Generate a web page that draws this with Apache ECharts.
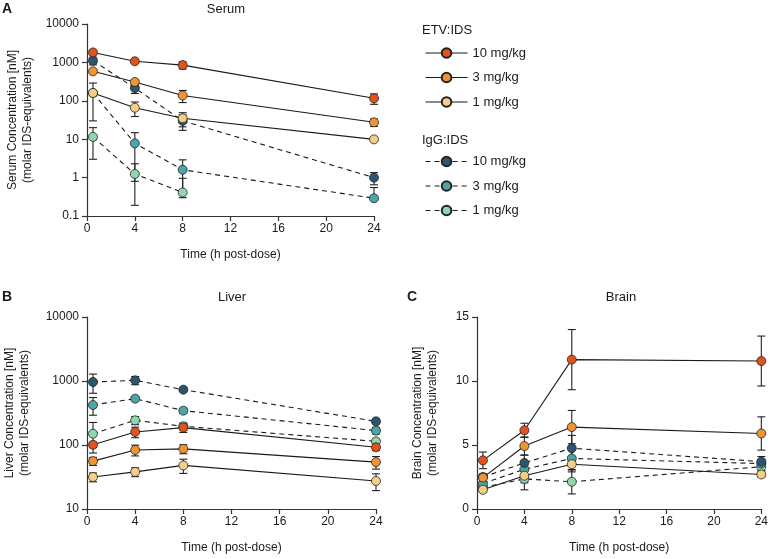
<!DOCTYPE html>
<html>
<head>
<meta charset="utf-8">
<script src="https://cdn.jsdelivr.net/npm/echarts@6/dist/echarts.min.js"></script>
<style>
  html, body { margin: 0; padding: 0; background: #fff; }
  #main { width: 771px; height: 559px; }
</style>
</head>
<body>
<div id="main"></div>
<script>
// sampling times (h post-dose)
var times = [0.5, 4, 8, 24];

// group labels / legend
var groups = ['ETV:IDS', 'IgG:IDS'];
var doses = ['10 mg/kg', '3 mg/kg', '1 mg/kg'];

// Serum (nM) mean and SD
var serumEtv10 = [1820, 1070, 850, 116];
var serumEtv10Sd = [250, 100, 180, 35];
var serumEtv3 = [585, 310, 138, 27.5];
var serumEtv3Sd = [60, 40, 48, 6];
var serumEtv1 = [160, 66, 35, 9.9];
var serumEtv1Sd = [25, 27, 14, 1];
var serumIgg10 = [1110, 215, 30, 1.0];
var serumIgg10Sd = [250, 60, 13, 0.35];
var serumIgg3 = [160, 7.8, 1.6, 0.29];
var serumIgg3Sd = [130, 7, 1.3, 0.26];
var serumIgg1 = [11.5, 1.24, 0.41, null];
var serumIgg1Sd = [8.5, 1.05, 0.55, null];

// Liver (nM)
var liverEtv10 = [101, 160, 187, 92];
var liverEtv10Sd = [10, 30, 30, 10];
var liverEtv3 = [56, 83.5, 87, 54];
var liverEtv3Sd = [8, 16, 14, 12];
var liverEtv1 = [31.6, 38, 48, 27.4];
var liverEtv1Sd = [5, 6, 12, 8];
var liverIgg10 = [964, 1025, 732, 234];
var liverIgg10Sd = [320, 150, 40, 20];
var liverIgg3 = [422, 530, 344, 168];
var liverIgg3Sd = [130, 40, 30, 20];
var liverIgg1 = [150, 243, 196, 114];
var liverIgg1Sd = [75, 35, 25, 10];

// Brain (nM)
var brainEtv10 = [3.8, 6.15, 11.67, 11.56];
var brainEtv10Sd = [0.65, 0.55, 2.35, 1.95];
var brainEtv3 = [2.45, 4.92, 6.4, 5.9];
var brainEtv3Sd = [0.3, 0.7, 1.3, 1.3];
var brainEtv1 = [1.5, 2.6, 3.5, 2.7];
var brainEtv1Sd = [0.2, 1.1, 0.6, 0.2];
var brainIgg10 = [2.5, 3.6, 4.75, 3.7];
var brainIgg10Sd = [0.2, 0.6, 1.0, 0.4];
var brainIgg3 = [2.0, 3.1, 3.95, 3.55];
var brainIgg3Sd = [0.3, 0.6, 0.9, 0.3];
var brainIgg1 = [1.7, 2.35, 2.13, 3.3];
var brainIgg1Sd = [0.3, 0.3, 0.95, 0.3];

var colEtv = ['#e1521d', '#ee9434', '#f5cf88'];
var colIgg = ['#2c5670', '#4fa5a6', '#90d6b0'];

var FONT = 'Liberation Sans, Arial, sans-serif';
var chart = echarts.init(document.getElementById('main'));

function fmt(v) { return String(+(+v).toPrecision(6)); }

var axisLineStyle = { show: true, onZero: false, lineStyle: { color: '#333', width: 1.2 } };
var tickStyle = { show: true, inside: false, length: 5, lineStyle: { color: '#333', width: 1.2 } };

function xAxis(gi) {
    return {
        gridIndex: gi, type: 'value', min: 0, max: 24, interval: 4,
        name: 'Time (h post-dose)', nameLocation: 'middle', nameGap: 33,
        nameTextStyle: { fontFamily: FONT, fontSize: 12, color: '#1a1a1a' },
        axisLine: axisLineStyle,
        axisTick: tickStyle,
        axisLabel: { fontFamily: FONT, fontSize: 12, color: '#1a1a1a', margin: 7 },
        splitLine: { show: false }
    };
}

function yAxis(gi, name, gap, extra) {
    var a = {
        gridIndex: gi,
        name: name, nameLocation: 'middle', nameGap: gap,
        nameTextStyle: { fontFamily: FONT, fontSize: 12, color: '#1a1a1a', lineHeight: 15 },
        axisLine: axisLineStyle,
        axisTick: tickStyle,
        axisLabel: { fontFamily: FONT, fontSize: 12, color: '#1a1a1a', margin: 8, formatter: fmt },
        splitLine: { show: false },
        minorTick: { show: false }
    };
    for (var k in extra) a[k] = extra[k];
    return a;
}

var series = [];

function addPanel(gi, logMin, defs) {
    defs.forEach(function (d) {
        var pts = [], bars = [];
        for (var i = 0; i < times.length; i++) {
            if (d.mean[i] == null) continue;
            pts.push([times[i], d.mean[i]]);
            var lo = d.mean[i] - d.sd[i];
            if (logMin != null && lo < logMin) lo = null;
            bars.push([times[i], d.mean[i], lo, d.mean[i] + d.sd[i]]);
        }
        // error bars (mean +/- SD)
        series.push({
            type: 'custom', xAxisIndex: gi, yAxisIndex: gi, z: 1,
            silent: true, clip: false,
            renderItem: function (params, api) {
                var x = api.value(0), m = api.value(1), lo = api.value(2), hi = api.value(3);
                var pm = api.coord([x, m]);
                var ph = api.coord([x, hi]);
                var kids = [];
                var st = { stroke: '#222', lineWidth: 1.1 };
                kids.push({ type: 'line', shape: { x1: pm[0], y1: pm[1], x2: ph[0], y2: ph[1] }, style: st });
                kids.push({ type: 'line', shape: { x1: ph[0] - 4, y1: ph[1], x2: ph[0] + 4, y2: ph[1] }, style: st });
                if (lo != null && !isNaN(lo)) {
                    var pl = api.coord([x, lo]);
                    kids.push({ type: 'line', shape: { x1: pm[0], y1: pm[1], x2: pl[0], y2: pl[1] }, style: st });
                    kids.push({ type: 'line', shape: { x1: pl[0] - 4, y1: pl[1], x2: pl[0] + 4, y2: pl[1] }, style: st });
                }
                return { type: 'group', children: kids };
            },
            encode: { x: 0, y: [1, 2, 3] },
            data: bars
        });
        series.push({
            name: d.name, type: 'line', xAxisIndex: gi, yAxisIndex: gi, z: d.z,
            symbol: 'circle', symbolSize: 9, showSymbol: true,
            lineStyle: { color: '#1a1a1a', width: 1.1, type: d.dash ? [5, 4] : 'solid' },
            itemStyle: { color: d.color, borderColor: '#222', borderWidth: 0.8 },
            emphasis: { disabled: true },
            data: pts
        });
    });
}

function defs(e10, e10s, e3, e3s, e1, e1s, g10, g10s, g3, g3s, g1, g1s) {
    return [
        { name: groups[1] + '|' + doses[2], mean: g1, sd: g1s, color: colIgg[2], dash: true, z: 2 },
        { name: groups[1] + '|' + doses[1], mean: g3, sd: g3s, color: colIgg[1], dash: true, z: 3 },
        { name: groups[1] + '|' + doses[0], mean: g10, sd: g10s, color: colIgg[0], dash: true, z: 4 },
        { name: groups[0] + '|' + doses[2], mean: e1, sd: e1s, color: colEtv[2], dash: false, z: 5 },
        { name: groups[0] + '|' + doses[1], mean: e3, sd: e3s, color: colEtv[1], dash: false, z: 6 },
        { name: groups[0] + '|' + doses[0], mean: e10, sd: e10s, color: colEtv[0], dash: false, z: 7 }
    ];
}

addPanel(0, 0.1, defs(serumEtv10, serumEtv10Sd, serumEtv3, serumEtv3Sd, serumEtv1, serumEtv1Sd,
    serumIgg10, serumIgg10Sd, serumIgg3, serumIgg3Sd, serumIgg1, serumIgg1Sd));
addPanel(1, 10, defs(liverEtv10, liverEtv10Sd, liverEtv3, liverEtv3Sd, liverEtv1, liverEtv1Sd,
    liverIgg10, liverIgg10Sd, liverIgg3, liverIgg3Sd, liverIgg1, liverIgg1Sd));
addPanel(2, null, defs(brainEtv10, brainEtv10Sd, brainEtv3, brainEtv3Sd, brainEtv1, brainEtv1Sd,
    brainIgg10, brainIgg10Sd, brainIgg3, brainIgg3Sd, brainIgg1, brainIgg1Sd));

function legend(gi, top) {
    return {
        orient: 'vertical', left: 420, top: top,
        itemWidth: 42, itemHeight: 12, itemGap: 11.5,
        selectedMode: false,
        lineStyle: { width: 1.1 },
        textStyle: { fontFamily: FONT, fontSize: 13, color: '#1a1a1a' },
        formatter: function (n) { return n.split('|')[1]; },
        data: doses.map(function (d) { return groups[gi] + '|' + d; })
    };
}

function txt(x, y, s, size, bold) {
    return {
        type: 'text', x: x, y: y,
        style: { text: s, fontFamily: FONT, fontSize: size, fontWeight: bold ? 'bold' : 'normal',
            fill: '#1a1a1a', align: bold ? 'left' : 'center', verticalAlign: 'middle' }
    };
}

var option = {
    animation: false,
    grid: [
        { left: 87, top: 24, width: 287, height: 192 },
        { left: 87, top: 317, width: 289, height: 192 },
        { left: 477, top: 317, width: 288, height: 192 }
    ],
    xAxis: [xAxis(0), xAxis(1), xAxis(2)],
    yAxis: [
        yAxis(0, 'Serum Concentration [nM]\n(molar IDS-equivalents)', 52, { type: 'log', logBase: 10, min: 0.1, max: 10000 }),
        yAxis(1, 'Liver Concentration [nM]\n(molar IDS-equivalents)', 55, { type: 'log', logBase: 10, min: 10, max: 10000 }),
        yAxis(2, 'Brain Concentration [nM]\n(molar IDS-equivalents)', 37, { type: 'value', min: 0, max: 15, interval: 5 })
    ],
    legend: [legend(0, 41.5), legend(1, 150)],
    graphic: [
        txt(2, 9, 'A', 14, true),
        txt(2, 297, 'B', 14, true),
        txt(407, 297, 'C', 14, true),
        txt(226, 9, 'Serum', 13),
        txt(232, 297, 'Liver', 13),
        txt(621, 297, 'Brain', 13),
        { type: 'text', x: 422, y: 30, style: { text: groups[0], fontFamily: FONT, fontSize: 13, fill: '#1a1a1a', verticalAlign: 'middle' } },
        { type: 'text', x: 422, y: 140, style: { text: groups[1], fontFamily: FONT, fontSize: 13, fill: '#1a1a1a', verticalAlign: 'middle' } }
    ],
    series: series
};

chart.setOption(option);
</script>
</body>
</html>
